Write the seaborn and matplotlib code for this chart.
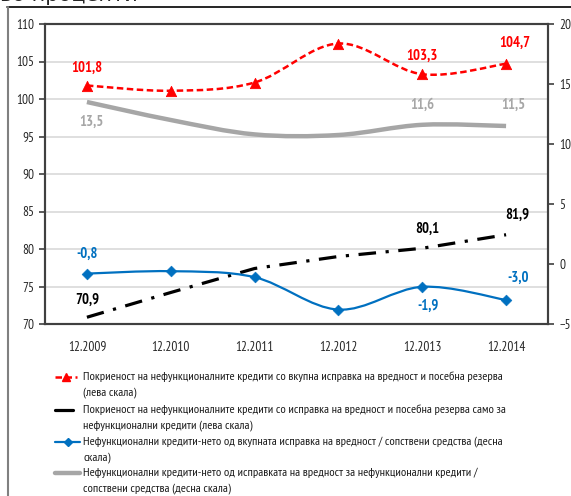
import numpy as np
import pandas as pd

import matplotlib.pyplot as plt
import seaborn as sns
from matplotlib.path import Path
from matplotlib.patches import PathPatch
from matplotlib.lines import Line2D


# податоци (прочитани од графикот)
periods = ['12.2009', '12.2010', '12.2011', '12.2012', '12.2013', '12.2014']
cover_total = [101.8, 101.1, 102.2, 107.4, 103.3, 104.7]      # лева скала, црвена
cover_npl = [70.9, 74.2, 77.4, 79.0, 80.1, 81.9]              # лева скала, црна
npl_net_total = [-0.8, -0.6, -1.1, -3.8, -1.9, -3.0]          # десна скала, сина
npl_net_npl = [13.5, 12.0, 10.8, 10.75, 11.6, 11.5]           # десна скала, сива

labels = [
    'Покриеност на нефункционалните кредити со вкупна исправка на вредност и посебна резерва\n(лева скала)',
    'Покриеност на нефункционалните кредити со исправка на вредност и посебна резерва само за\nнефункционални кредити (лева скала)',
    'Нефункционални кредити-нето од вкупната исправка на вредност / сопствени средства (десна\nскала)',
    'Нефункционални кредити-нето од исправката на вредност за нефункционални кредити /\nсопствени средства (десна скала)',
]

RED = '#FF0000'
BLUE = '#0070C0'
GREY = '#A6A6A6'
W, H = 571, 496
RED_DASH = (0, (2.6, 1.4))
BLACK_DASH = (0, (5.5, 3, 1, 3))


def smooth_path(ax, xs, ys, **kw):
    """Мазна линија (како во Excel) - Bezier преку точките."""
    p = np.column_stack([xs, ys]).astype(float)
    n = len(p)
    verts = [p[0]]
    codes = [Path.MOVETO]
    for i in range(n - 1):
        p0 = p[i - 1] if i > 0 else p[i]
        p3 = p[i + 2] if i + 2 < n else p[i + 1]
        c1 = p[i] + (p[i + 1] - p0) / 6
        c2 = p[i + 1] - (p3 - p[i]) / 6
        verts += [c1, c2, p[i + 1]]
        codes += [Path.CURVE4] * 3
    patch = PathPatch(Path(verts, codes), fill=False, **kw)
    ax.add_patch(patch)
    return patch


sns.set_style('white')
plt.rcParams['font.family'] = ['PT Sans Narrow', 'DejaVu Sans']

df = pd.DataFrame({'period': periods, 'x': range(len(periods)),
                   'red': cover_total, 'black': cover_npl,
                   'blue': npl_net_total, 'grey': npl_net_npl})

fig = plt.figure(figsize=(W / 100, H / 100), dpi=100)
ax = fig.add_axes([45 / W, 1 - 324 / H, 503 / W, 300 / H])
ax2 = ax.twinx()

# лева скала
ax.set_ylim(70, 110)
ax.set_yticks(range(70, 111, 5))
ax.set_xlim(-0.5, 5.5)
for v in range(75, 110, 5):
    ax.axhline(v, color='#D9D9D9', lw=1.2, zorder=0)

smooth_path(ax, df['x'], df['red'], edgecolor=RED, lw=1.8, linestyle=RED_DASH, zorder=4)
sns.scatterplot(data=df, x='x', y='red', ax=ax, marker='^', s=55, color=RED,
                edgecolor=RED, zorder=5, legend=False)
sns.lineplot(data=df, x='x', y='black', ax=ax, color='black', lw=2.3,
             linestyle=BLACK_DASH, zorder=4, legend=False)

# десна скала
ax2.set_ylim(-5, 20)
ax2.set_yticks(range(-5, 21, 5))
smooth_path(ax2, df['x'], df['grey'], edgecolor=GREY, lw=3.2, zorder=3)
smooth_path(ax2, df['x'], df['blue'], edgecolor=BLUE, lw=1.6, zorder=4)
sns.scatterplot(data=df, x='x', y='blue', ax=ax2, marker='D', s=30, color=BLUE,
                edgecolor=BLUE, zorder=5, legend=False)

# етикети на податоците
fmt = lambda v: f'{v:.1f}'.replace('.', ',')
bold = dict(fontsize=10.5, fontweight='bold', ha='center', textcoords='offset points')


def lab(a, vals, i, dx, dy, color):
    a.annotate(fmt(vals[i]), (i, vals[i]), xytext=(dx, dy),
               va='bottom' if dy > 0 else 'top', color=color, **bold)


lab(ax, cover_total, 0, 0, 8, RED)
lab(ax, cover_total, 4, 0, 8.5, RED)
lab(ax, cover_total, 5, 6, 10, RED)
lab(ax, cover_npl, 0, 0, 7.5, 'black')
lab(ax, cover_npl, 4, 3.5, 9, 'black')
lab(ax, cover_npl, 5, 8, 9, 'black')
lab(ax2, npl_net_total, 0, 0, 9, BLUE)
lab(ax2, npl_net_total, 4, 4, -9, BLUE)
lab(ax2, npl_net_total, 5, 9, 11, BLUE)
lab(ax2, npl_net_npl, 0, 3.5, -9, GREY)
lab(ax2, npl_net_npl, 4, 0, 9, GREY)
lab(ax2, npl_net_npl, 5, 5, 10, GREY)

# оски
ax.set_xticks(range(len(periods)))
ax.set_xticklabels(periods)
ax.set_xticks(np.arange(-0.5, 5.6, 1), minor=True)
ax.tick_params(axis='x', which='major', length=0, pad=12, labelsize=9.5)
ax.tick_params(axis='x', which='minor', length=4, width=1.2, color='#404040', direction='out')
ax.tick_params(axis='y', length=4, width=1.2, color='#404040', direction='out', labelsize=9.5,
               left=True, pad=4)
ax2.tick_params(axis='y', length=4, width=1.2, color='#404040', direction='out', labelsize=9.5,
                right=True, pad=4)
ax.set_xlabel('')
ax.set_ylabel('')
ax2.set_ylabel('')
for a in (ax, ax2):
    for s in a.spines.values():
        s.set_color('#404040')
        s.set_linewidth(1.5)

# легенда (рачно, рачката е порамнета со првиот ред)
handles = [
    dict(color=RED, lw=1.8, linestyle=RED_DASH, marker='^', markersize=6, markevery=[1]),
    dict(color='black', lw=2.3),
    dict(color=BLUE, lw=1.6, marker='D', markersize=4, markevery=[1]),
    dict(color=GREY, lw=3.2),
]
handle_end = [77, 73, 80, 80]
first_rows = [376.5, 409.5, 441.5, 472.5]
pitch = 16
for lbl, hk, xe, y0 in zip(labels, handles, handle_end, first_rows):
    yf = 1 - y0 / H
    fig.add_artist(Line2D(np.array([55, (55 + xe) / 2, xe]) / W, [yf] * 3, **hk))
    for k, line in enumerate(lbl.split('\n')):
        fig.text(83 / W, 1 - (y0 + k * pitch) / H, line, fontsize=8.9,
                 ha='left', va='center', color='#1a1a1a')

# рамка и наслов (отсечени)
fig.add_artist(Line2D([7 / W, 1], [1 - 7 / H, 1 - 7 / H], color='black', lw=1.2))
fig.add_artist(Line2D([7.5 / W, 7.5 / W], [0, 1 - 7 / H], color='#808080', lw=1.5))
fig.text(0, 1 - 5 / H, 'во проценти', fontsize=15, ha='left', va='bottom',
         family=['DejaVu Sans'])

plt.savefig('out.png', dpi=100)
